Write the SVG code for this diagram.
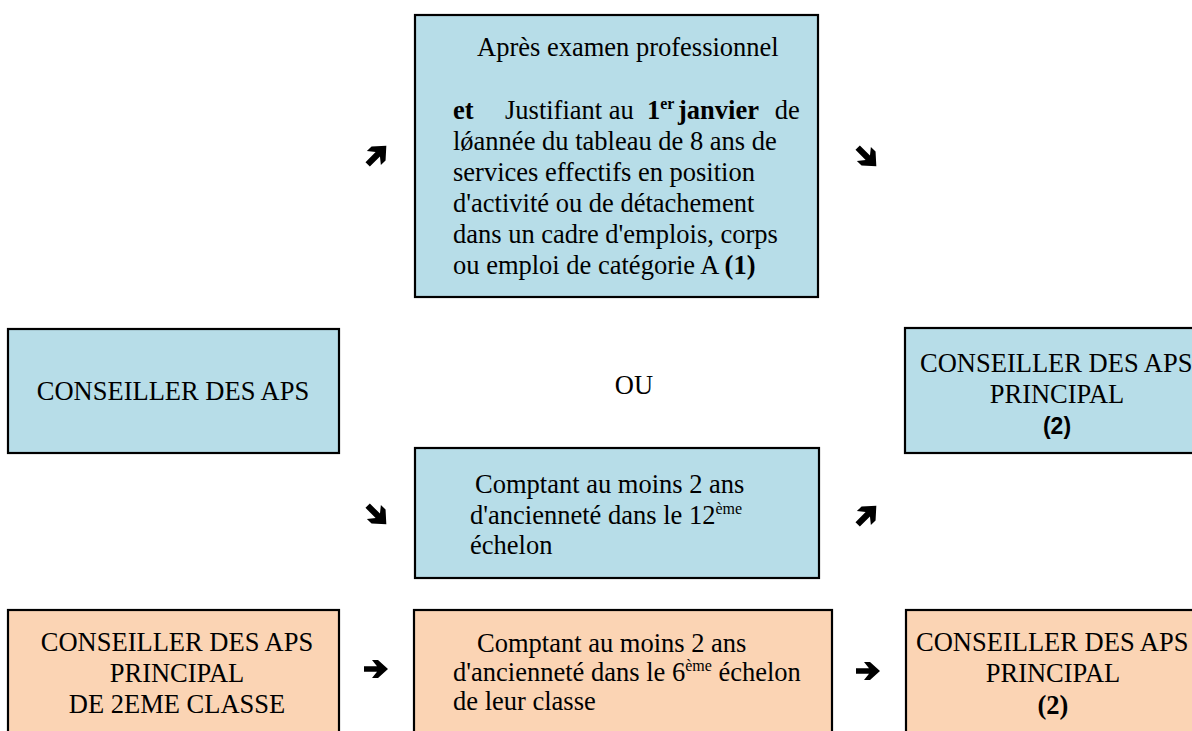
<svg xmlns="http://www.w3.org/2000/svg" width="1192" height="731" viewBox="0 0 1192 731">
<style>
.box{stroke:#000;stroke-width:2.2}
.blue{fill:#B7DDE8}
.orange{fill:#FBD4B4}
text{font-family:"Liberation Serif","Times New Roman",serif;font-size:26.5px;fill:#000}
.c{text-anchor:middle}
.b{font-weight:bold}
.sup{font-size:16px}
.arr{fill:#000}
</style>
<defs>
<path id="arrow" d="M-12,-2.8 L1,-2.8 L-4,-9 L2,-9 L12,0 L2,9 L-4,9 L1,2.8 L-12,2.8 Z"/>
</defs>
<rect width="1192" height="731" fill="#fff"/>

<g id="node-exam">
<rect class="box blue" x="415" y="15" width="403" height="282"/>
<text x="477" y="56">Après examen professionnel</text>
<text y="119"><tspan x="453" class="b">et</tspan><tspan x="505">Justifiant au </tspan><tspan x="647" class="b">1</tspan><tspan class="b sup" dy="-10">er</tspan><tspan x="678" y="119" class="b">janvier</tspan><tspan x="768"> de</tspan></text>
<text x="453" y="150">lǿannée du  tableau de 8 ans de</text>
<text x="453" y="181">services effectifs en position</text>
<text x="453" y="212">d'activité ou de détachement</text>
<text x="453" y="243">dans un cadre d'emplois, corps</text>
<text x="453" y="274">ou emploi de catégorie A <tspan class="b">(1)</tspan></text>
</g>

<g id="node-conseiller">
<rect class="box blue" x="8" y="329" width="331" height="124"/>
<text class="c" x="173" y="400">CONSEILLER DES APS</text>
</g>

<g id="node-ou">
<text class="c" x="634" y="394">OU</text>
</g>

<g id="node-principal-blue">
<rect class="box blue" x="905" y="328" width="340" height="125"/>
<text x="920" y="372">CONSEILLER DES APS</text>
<text class="c" x="1057" y="403">PRINCIPAL</text>
<text class="c" x="1057" y="434" style="font-family:'Liberation Sans',Arial,sans-serif;font-weight:bold;font-size:23px">(2)</text>
</g>

<g id="node-echelon12">
<rect class="box blue" x="415" y="448" width="404" height="130"/>
<text x="475" y="493">Comptant au moins 2 ans</text>
<text x="470" y="524">d'ancienneté dans le 12<tspan class="sup" dy="-10">ème</tspan></text>
<text x="470" y="554">échelon</text>
</g>

<g id="node-2eme-classe">
<rect class="box orange" x="8" y="610" width="331" height="135"/>
<text class="c" x="177" y="651">CONSEILLER DES APS</text>
<text class="c" x="177" y="682">PRINCIPAL</text>
<text class="c" x="177" y="713">DE 2EME CLASSE</text>
</g>

<g id="node-echelon6">
<rect class="box orange" x="414" y="610" width="418" height="135"/>
<text x="477" y="652">Comptant au moins 2 ans</text>
<text x="453" y="681">d'ancienneté dans le 6<tspan class="sup" dy="-10">ème</tspan><tspan dy="10"> échelon</tspan></text>
<text x="453" y="710">de leur classe</text>
</g>

<g id="node-principal-orange">
<rect class="box orange" x="906" y="610" width="340" height="135"/>
<text x="916" y="651">CONSEILLER DES APS</text>
<text class="c" x="1053" y="682">PRINCIPAL</text>
<text class="c b" x="1053" y="714">(2)</text>
</g>

<g id="connectors" class="arr">
<use href="#arrow" transform="translate(377,155) rotate(-45) scale(1.1)"/>
<use href="#arrow" transform="translate(867,157) rotate(45) scale(1.1)"/>
<use href="#arrow" transform="translate(377,515) rotate(45) scale(1.1)"/>
<use href="#arrow" transform="translate(867,515) rotate(-45) scale(1.1)"/>
<use href="#arrow" transform="translate(376,669)"/>
<use href="#arrow" transform="translate(868,671)"/>
</g>
</svg>
